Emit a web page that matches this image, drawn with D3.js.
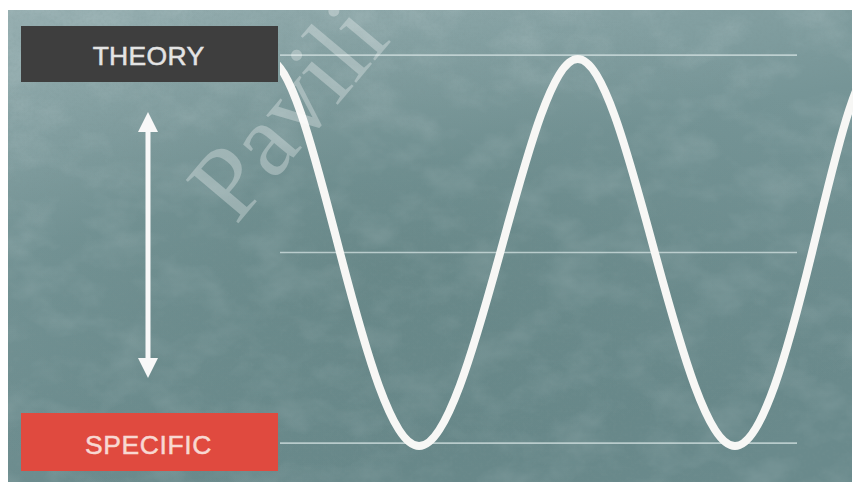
<!DOCTYPE html>
<html>
<head>
<meta charset="utf-8">
<script src="https://cdn.jsdelivr.net/npm/d3@7"></script>
<style>
  html, body { margin: 0; padding: 0; background: #fff; }
  svg { display: block; }
</style>
</head>
<body>
<script>
// wave turning points / crossings, x in plot units (0..100 = guide line span)
const waveX = [-16.6, -2.5, 11.6, 26.9, 42.6, 57.6, 72.5, 88.0, 102.9, 116.1, 130.9]
const waveY = [0, 1, 0, -1, 0, 1, 0, -1, 0, 1, 0]
// faint horizontal guide lines
const guideLevels = [1.02, 0, -0.985]
const labels = ['THEORY', 'SPECIFIC']
const watermark = 'Pavili'

const width = 853
const height = 482
const bg = { left: 8, top: 10 }
const plot = { left: 280, right: 797, top: 59, bottom: 446 }

const svg = d3.select('body').append('svg')
  .attr('width', width)
  .attr('height', height)

const defs = svg.append('defs')

const grad = defs.append('linearGradient')
  .attr('id', 'bgGrad')
  .attr('x1', 0).attr('y1', 0).attr('x2', 0.35).attr('y2', 1)
grad.append('stop').attr('offset', '0%').attr('stop-color', '#97afb1')
grad.append('stop').attr('offset', '45%').attr('stop-color', '#769597')
grad.append('stop').attr('offset', '100%').attr('stop-color', '#6a8a8c')

const spot = defs.append('radialGradient')
  .attr('id', 'spot')
  .attr('cx', 0.45).attr('cy', 0.55).attr('r', 0.6)
spot.append('stop').attr('offset', '0%').attr('stop-color', '#50716f').attr('stop-opacity', 0.3)
spot.append('stop').attr('offset', '100%').attr('stop-color', '#50716f').attr('stop-opacity', 0)

// mottled chalkboard texture
const f = defs.append('filter').attr('id', 'mottle')
  .attr('x', 0).attr('y', 0).attr('width', '100%').attr('height', '100%')
f.append('feTurbulence')
  .attr('type', 'fractalNoise')
  .attr('baseFrequency', '0.02 0.03')
  .attr('numOctaves', 4)
  .attr('seed', 7)
f.append('feColorMatrix')
  .attr('type', 'matrix')
  .attr('values', '0 0 0 0 0.85  0 0 0 0 0.92  0 0 0 0 0.93  1.4 0 0 0 -0.6')

const f2 = defs.append('filter').attr('id', 'grain')
  .attr('x', 0).attr('y', 0).attr('width', '100%').attr('height', '100%')
f2.append('feTurbulence')
  .attr('type', 'fractalNoise')
  .attr('baseFrequency', '0.3')
  .attr('numOctaves', 2)
  .attr('seed', 3)
f2.append('feColorMatrix')
  .attr('type', 'matrix')
  .attr('values', '0 0 0 0 0.2  0 0 0 0 0.3  0 0 0 0 0.3  0 1.4 0 0 -0.6')

defs.append('clipPath').attr('id', 'waveClip')
  .append('rect')
  .attr('x', plot.left).attr('y', bg.top)
  .attr('width', width - plot.left).attr('height', height - bg.top)

const bgW = width - bg.left - 1
const bgH = height - bg.top

svg.append('rect')
  .attr('x', bg.left).attr('y', bg.top)
  .attr('width', bgW).attr('height', bgH)
  .attr('fill', 'url(#bgGrad)')
svg.append('rect')
  .attr('x', bg.left).attr('y', bg.top)
  .attr('width', bgW).attr('height', bgH)
  .attr('fill', 'url(#spot)')
svg.append('rect')
  .attr('x', bg.left).attr('y', bg.top)
  .attr('width', bgW).attr('height', bgH)
  .attr('filter', 'url(#mottle)')
  .attr('opacity', 0.18)
svg.append('rect')
  .attr('x', bg.left).attr('y', bg.top)
  .attr('width', bgW).attr('height', bgH)
  .attr('filter', 'url(#grain)')
  .attr('opacity', 0.25)

const xScale = d3.scaleLinear()
  .domain([0, 100])
  .range([plot.left, plot.right])

const yScale = d3.scaleLinear()
  .domain([-1, 1])
  .range([plot.bottom, plot.top])

// guide lines
svg.append('g')
  .selectAll('line')
  .data(guideLevels)
  .enter()
  .append('line')
  .attr('x1', xScale(0))
  .attr('x2', xScale(100))
  .attr('y1', d => yScale(d))
  .attr('y2', d => yScale(d))
  .style('stroke', '#d3e2e2')
  .style('stroke-opacity', 0.75)
  .style('stroke-width', 1.6)

// the wave
const wave = waveX.map((x, i) => ({ x, y: waveY[i] }))
const line = d3.line()
  .x(d => xScale(d.x))
  .y(d => yScale(d.y))
  .curve(d3.curveNatural)

svg.append('path')
  .datum(wave)
  .attr('clip-path', 'url(#waveClip)')
  .attr('d', line)
  .style('fill', 'none')
  .style('stroke', '#f7f7f5')
  .style('stroke-width', 8)
  .style('stroke-linecap', 'round')

// label boxes
const boxes = [
  { text: labels[0], x: 21, y: 26, w: 257, h: 56, fill: '#3e3e3e', color: '#e4e4e4', base: 65 },
  { text: labels[1], x: 21, y: 413, w: 257, h: 58, fill: '#e04a3f', color: '#f8d8d2', base: 454 }
]
const bx = svg.append('g').selectAll('g').data(boxes).enter().append('g')
bx.append('rect')
  .attr('x', d => d.x).attr('y', d => d.y)
  .attr('width', d => d.w).attr('height', d => d.h)
  .style('fill', d => d.fill)
bx.append('text')
  .attr('x', d => d.x + d.w / 2 - 1)
  .attr('y', d => d.base)
  .style('text-anchor', 'middle')
  .style('font-family', '"Liberation Sans", Arial, sans-serif')
  .style('font-size', '26.5px')
  .style('letter-spacing', (d, i) => i === 1 ? '0.6px' : '0.3px')
  .style('fill', d => d.color)
  .style('stroke', d => d.color)
  .style('stroke-width', 0.5)
  .text(d => d.text)

// double headed arrow
const arrow = { x: 148, top: 112, bottom: 378, head: 20, half: 10 }
const ag = svg.append('g').style('fill', '#f8f8f8').style('stroke', 'none')
ag.append('rect')
  .attr('x', arrow.x - 2.5)
  .attr('y', arrow.top + arrow.head - 2)
  .attr('width', 5)
  .attr('height', arrow.bottom - arrow.top - 2 * arrow.head + 4)
ag.append('path')
  .attr('d', `M${arrow.x},${arrow.top} L${arrow.x + arrow.half},${arrow.top + arrow.head} L${arrow.x - arrow.half},${arrow.top + arrow.head} Z`)
ag.append('path')
  .attr('d', `M${arrow.x},${arrow.bottom} L${arrow.x + arrow.half},${arrow.bottom - arrow.head} L${arrow.x - arrow.half},${arrow.bottom - arrow.head} Z`)

// faint watermark on top
svg.append('text')
  .attr('transform', 'translate(236,226) rotate(-50)')
  .style('font-family', '"Liberation Serif", "DejaVu Serif", serif')
  .style('font-size', '104px')
  .style('fill', '#ffffff')
  .style('fill-opacity', 0.3)
  .text(watermark)
</script>
</body>
</html>
